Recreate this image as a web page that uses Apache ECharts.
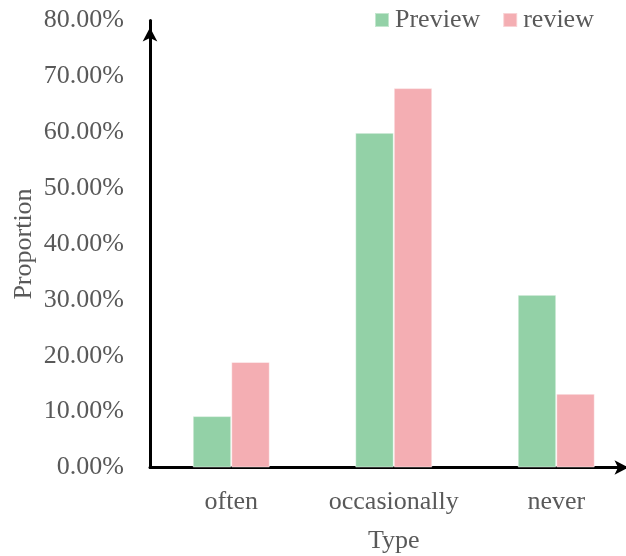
<!DOCTYPE html>
<html>
<head>
<meta charset="utf-8">
<script src="https://cdn.jsdelivr.net/npm/echarts@6/dist/echarts.min.js"></script>
<style>
  html, body { margin: 0; padding: 0; background: #fff; }
  #chart { width: 626px; height: 556px; }
</style>
</head>
<body>
<div id="chart"></div>
<script>
// Usage frequency by type (proportion, %)
const categories = ['often', 'occasionally', 'never'];
const previewValues = [9.2, 59.9, 30.9];
const reviewValues = [18.9, 67.9, 13.2];
const seriesNames = ['Preview', 'review'];
const yTicks = { min: 0, max: 80, interval: 10 };

const FONT = '"Liberation Serif", "Times New Roman", serif';
const TEXT = '#595959';
const GREEN = '#93D1A7';
const PINK = '#F4AEB3';

const chart = echarts.init(document.getElementById('chart'), null, { renderer: 'canvas' });

chart.setOption({
  animation: false,
  backgroundColor: '#fff',
  textStyle: { fontFamily: FONT },
  legend: {
    data: seriesNames,
    top: 2,
    left: 369,
    itemWidth: 14,
    itemHeight: 14,
    itemGap: 22,
    icon: 'rect',
    textStyle: { fontFamily: FONT, fontSize: 26, color: TEXT, padding: [0, 0, 0, 1] }
  },
  // the plot area runs slightly past the right edge of the canvas
  grid: {
    left: 150, width: 487.5, top: 20.5, bottom: 88.5,
    containLabel: false, outerBoundsMode: 'none'
  },
  xAxis: {
    type: 'category',
    data: categories,
    name: 'Type',
    nameLocation: 'middle',
    nameGap: 61,
    nameTextStyle: { fontFamily: FONT, fontSize: 26, color: TEXT },
    axisLine: {
      show: true,
      lineStyle: { color: '#000', width: 3 },
      symbol: ['none', 'arrow'],
      symbolSize: [11, 14],
      symbolOffset: [0, -9]
    },
    axisTick: { show: false },
    axisLabel: { fontFamily: FONT, fontSize: 26, color: TEXT, margin: 22, interval: 0 },
    splitLine: { show: false }
  },
  yAxis: {
    type: 'value',
    min: yTicks.min,
    max: yTicks.max,
    interval: yTicks.interval,
    name: 'Proportion',
    nameLocation: 'middle',
    nameGap: 113,
    nameMoveOverlap: false,
    nameTextStyle: { fontFamily: FONT, fontSize: 26, color: TEXT },
    axisLine: {
      show: true,
      lineStyle: { color: '#000', width: 3 },
      symbol: ['none', 'arrow'],
      symbolSize: [11, 14],
      symbolOffset: [0, -7]
    },
    axisTick: { show: false },
    axisLabel: {
      fontFamily: FONT, fontSize: 26, color: TEXT, margin: 26,
      formatter: v => v.toFixed(2) + '%'
    },
    splitLine: { show: false }
  },
  series: [
    {
      name: seriesNames[0],
      type: 'bar',
      data: previewValues,
      barGap: '0%',
      barCategoryGap: '52.6%',
      itemStyle: { color: GREEN, borderColor: 'rgba(255,255,255,0.45)', borderWidth: 1 }
    },
    {
      name: seriesNames[1],
      type: 'bar',
      data: reviewValues,
      barGap: '0%',
      barCategoryGap: '52.6%',
      itemStyle: { color: PINK, borderColor: 'rgba(255,255,255,0.45)', borderWidth: 1 }
    }
  ]
});
</script>
</body>
</html>
